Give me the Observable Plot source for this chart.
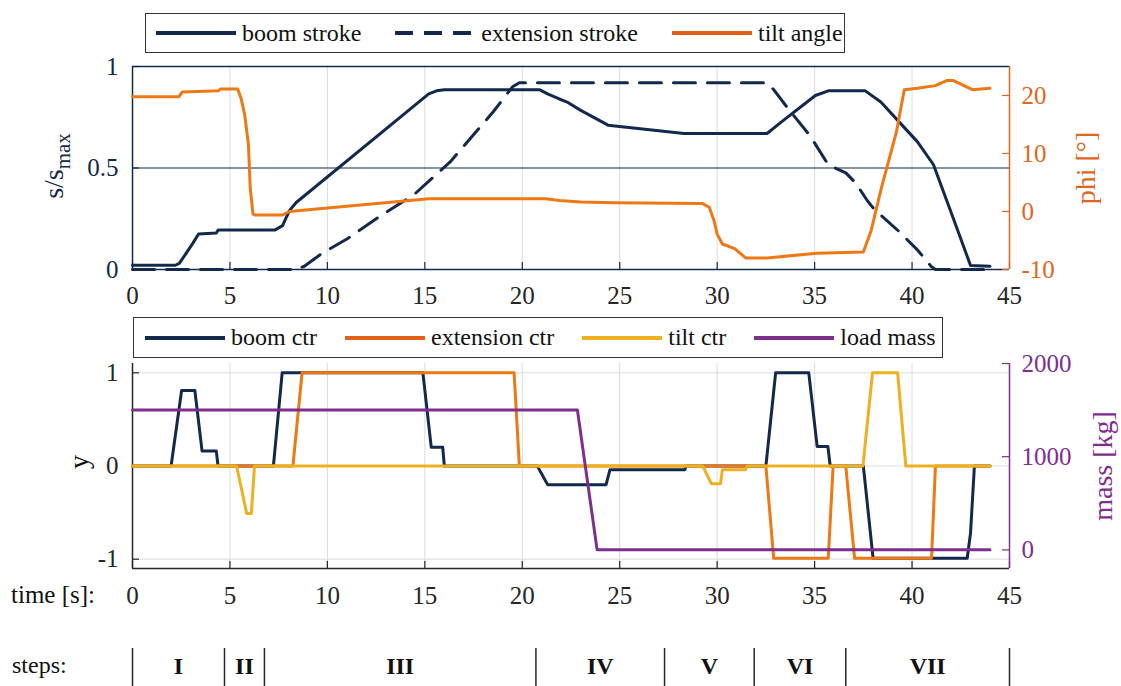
<!DOCTYPE html>
<html>
<head>
<meta charset="utf-8">
<script src="https://cdn.jsdelivr.net/npm/d3@7"></script>
<script src="https://cdn.jsdelivr.net/npm/@observablehq/plot@0.6"></script>
<style>
  html, body { margin: 0; padding: 0; background: #fff; overflow: hidden; }
  #root { position: relative; width: 1121px; height: 686px; overflow: hidden;
          font-family: "Liberation Serif", "Times New Roman", serif; }
  .layer { position: absolute; left: 0; }
  .layer svg { display: block; }
  .legend { position: absolute; box-sizing: border-box; border: 1.5px solid #333; background: #fff;
            display: flex; align-items: center; font-size: 24px; color: #111; white-space: nowrap; }
  .legend .item { display: flex; align-items: center; }
  .legend svg { display: block; margin-right: 6px; }
  .lbl { position: absolute; white-space: nowrap; line-height: 1; }
  .rot { transform: translate(-50%, -50%) rotate(-90deg); }
</style>
</head>
<body>
<div id="root"></div>
<script>
// ---------------- data ----------------
const xTicks = [0, 5, 10, 15, 20, 25, 30, 35, 40, 45];
const xGrid = [5, 10, 15, 20, 25, 30, 35, 40];
const sTicks = [0, 0.5, 1];
const phiTicks = [-10, 0, 10, 20];
const yTicks = [-1, 0, 1];
const massTicks = [0, 1000, 2000];

// top subplot: [time s, s/smax]
const boomStroke = [[0,0.021],[2.2,0.021],[2.4,0.03],[2.74,0.078],[3.1,0.13],[3.39,0.175],[4.3,0.18],[4.4,0.195],[7.32,0.195],[7.7,0.216],[8.05,0.29],[8.4,0.33],[15.2,0.865],[15.6,0.88],[16,0.885],[20.9,0.885],[21.3,0.865],[21.9,0.84],[22.3,0.825],[23.0,0.784],[24.4,0.711],[28.3,0.67],[32.56,0.67],[33.3,0.727],[35.04,0.857],[35.7,0.88],[37.6,0.88],[38.4,0.825],[39.5,0.71],[40.27,0.63],[41.1,0.516],[42.1,0.256],[43.0,0.02],[44,0.016]];
const extensionStroke = [[0,0],[8.4,0],[8.8,0.015],[9.7,0.078],[11.0,0.15],[12.6,0.256],[14.46,0.37],[16.3,0.53],[18.5,0.776],[19.5,0.9],[19.85,0.92],[32.56,0.92],[32.9,0.886],[33.66,0.79],[34.76,0.66],[35.7,0.516],[36.6,0.476],[37.1,0.427],[37.7,0.34],[38.06,0.297],[39.3,0.19],[40.3,0.094],[41.0,0.013],[41.2,0],[44,0]];
// [time s, phi deg]
const tiltAngle = [[0,19.8],[2.38,19.8],[2.56,20.6],[4.4,20.8],[4.5,21.1],[5.4,21.1],[5.58,19.4],[5.76,16.6],[5.95,11.5],[6.04,4.1],[6.18,-0.45],[6.3,-0.6],[7.7,-0.6],[8.05,0.0],[15.2,2.2],[21.2,2.2],[21.9,1.9],[23.0,1.65],[24.7,1.5],[29.26,1.36],[29.6,0.7],[29.84,-1.6],[30.0,-3.9],[30.27,-5.6],[30.9,-6.4],[31.46,-8.0],[32.56,-8.0],[35.13,-7.2],[37.5,-7.0],[37.9,-3.3],[38.43,4.1],[39.2,13.75],[39.6,21.0],[40.27,21.25],[41.2,21.7],[41.8,22.6],[42.1,22.6],[43.1,21.0],[44.0,21.25]];

// bottom subplot: [time s, y]
const boomCtr = [[0,0],[1.98,0],[2.52,0.81],[3.2,0.81],[3.57,0.16],[4.3,0.16],[4.39,0],[7.23,0],[7.68,1],[14.9,1],[15.33,0.2],[15.92,0.2],[16.0,0],[20.77,0],[21.3,-0.2],[24.3,-0.2],[24.5,-0.04],[28.34,-0.04],[28.4,0],[32.5,0],[33.0,1],[34.7,1],[35.13,0.21],[35.68,0.21],[35.8,0],[37.5,0],[38.0,-0.99],[42.83,-0.99],[43.0,-0.72],[43.2,0],[44,0]];
const extensionCtr = [[0,0],[8.23,0],[8.7,1],[19.58,1],[19.85,0],[32.5,0],[32.9,-0.99],[35.7,-0.99],[35.95,0],[36.6,0],[37.05,-0.99],[41.0,-0.99],[41.2,0],[44,0]];
const tiltCtr = [[0,0],[5.34,0],[5.86,-0.51],[6.1,-0.51],[6.26,0],[29.26,0],[29.7,-0.19],[30.17,-0.19],[30.27,-0.04],[31.46,-0.04],[31.55,0],[37.48,0],[37.97,1],[39.26,1],[39.68,0],[44,0]];
// [time s, mass kg]
const loadMass = [[0,1500],[22.83,1500],[23.84,0],[44,0]];

// steps row
const stepBounds = [0, 4.72, 6.77, 20.7, 27.3, 31.9, 36.6, 45];
const stepNames = ["I", "II", "III", "IV", "V", "VI", "VII"];

const topLegend = ["boom stroke", "extension stroke", "tilt angle"];
const bottomLegend = ["boom ctr", "extension ctr", "tilt ctr", "load mass"];

// ---------------- style ----------------
const FONT = '"Liberation Serif", "Times New Roman", serif';
const navy = "#13294b", orangeLine = "#ee7814", orangeAxis = "#e0661c", orangeLeg = "#e2601a";
const yellow = "#edb120", purple = "#7e2f8e", gridC = "#dcdcdc", ink = "#262626";
const W = 1121, ML = 132, MR = 112, PW = W - ML - MR;
const TS = 25;
const root = document.getElementById("root");
const X = d => d[0], Y = d => d[1];
const fmt = d => String(d);

function place(el, top) {
  const div = document.createElement("div");
  div.className = "layer"; div.style.top = top + "px";
  div.appendChild(el); root.appendChild(div);
}
const baseStyle = {background: "transparent", fontFamily: FONT, overflow: "visible"};

// ---------------- top subplot ----------------
const T = {top: 0, h: 320, mt: 66, mb: 51};
const TPH = T.h - T.mt - T.mb;
place(Plot.plot({
  width: W, height: T.h, marginTop: T.mt, marginBottom: T.mb, marginLeft: ML, marginRight: MR,
  style: baseStyle,
  x: {domain: [0, 45]}, y: {domain: [0, 1]},
  marks: [
    Plot.ruleX(xGrid, {stroke: gridC, strokeWidth: 1}),
    Plot.ruleY([0.5], {stroke: navy, strokeWidth: 1.2}),
    Plot.ruleY([0, 1], {stroke: navy, strokeWidth: 1.5}),
    Plot.ruleX([0], {stroke: navy, strokeWidth: 1.5}),
    Plot.ruleX(xTicks, {stroke: navy, strokeWidth: 1.2, insetTop: TPH - 7}),
    Plot.ruleY(sTicks, {stroke: navy, strokeWidth: 1.2, insetRight: PW - 7}),
    Plot.axisX(xTicks, {tickSize: 0, tickPadding: 17, fontSize: TS, color: ink, label: null, tickFormat: fmt}),
    Plot.axisY(sTicks, {tickSize: 0, tickPadding: 14, fontSize: TS, color: navy, label: null, tickFormat: fmt}),
    Plot.line(boomStroke, {x: X, y: Y, stroke: navy, strokeWidth: 3}),
    Plot.line(extensionStroke, {x: X, y: Y, stroke: navy, strokeWidth: 3, strokeDasharray: "22,12"})
  ]
}), T.top);
place(Plot.plot({
  width: W, height: T.h, marginTop: T.mt, marginBottom: T.mb, marginLeft: ML, marginRight: MR,
  style: baseStyle,
  x: {domain: [0, 45], axis: null}, y: {domain: [-10, 25]},
  marks: [
    Plot.ruleX([45], {stroke: orangeAxis, strokeWidth: 1.5}),
    Plot.ruleY(phiTicks, {stroke: orangeAxis, strokeWidth: 1.2, insetLeft: PW - 7}),
    Plot.axisY(phiTicks, {anchor: "right", tickSize: 0, tickPadding: 12, fontSize: TS, color: orangeAxis, label: null, tickFormat: fmt}),
    Plot.line(tiltAngle, {x: X, y: Y, stroke: orangeLine, strokeWidth: 3})
  ]
}), T.top);

// ---------------- bottom subplot ----------------
const B = {top: 310, h: 300, mt: 53, mb: 42};
const BPH = B.h - B.mt - B.mb;
place(Plot.plot({
  width: W, height: B.h, marginTop: B.mt, marginBottom: B.mb, marginLeft: ML, marginRight: MR,
  style: baseStyle,
  x: {domain: [0, 45]}, y: {domain: [-1.1, 1.1]},
  marks: [
    Plot.ruleX(xGrid, {stroke: gridC, strokeWidth: 1}),
    Plot.ruleY(yTicks, {stroke: gridC, strokeWidth: 1}),
    Plot.ruleY([-1.1], {stroke: ink, strokeWidth: 1.5}),
    Plot.ruleX([0], {stroke: ink, strokeWidth: 1.5}),
    Plot.ruleX(xTicks, {stroke: ink, strokeWidth: 1.2, insetTop: BPH - 7}),
    Plot.ruleY(yTicks, {stroke: ink, strokeWidth: 1.2, insetRight: PW - 7}),
    Plot.axisX(xTicks, {tickSize: 0, tickPadding: 18, fontSize: TS, color: ink, label: null, tickFormat: fmt}),
    Plot.axisY(yTicks, {tickSize: 0, tickPadding: 14, fontSize: TS, color: ink, label: null, tickFormat: fmt}),
    Plot.line(boomCtr, {x: X, y: Y, stroke: navy, strokeWidth: 3}),
    Plot.line(extensionCtr, {x: X, y: Y, stroke: orangeLine, strokeWidth: 3}),
    Plot.line(tiltCtr, {x: X, y: Y, stroke: yellow, strokeWidth: 3})
  ]
}), B.top);
place(Plot.plot({
  width: W, height: B.h, marginTop: B.mt, marginBottom: B.mb, marginLeft: ML, marginRight: MR,
  style: baseStyle,
  x: {domain: [0, 45], axis: null}, y: {domain: [-200, 2000]},
  marks: [
    Plot.ruleX([45], {stroke: purple, strokeWidth: 1.5}),
    Plot.ruleY(massTicks, {stroke: purple, strokeWidth: 1.2, insetLeft: PW - 7}),
    Plot.axisY(massTicks, {anchor: "right", tickSize: 0, tickPadding: 12, fontSize: TS, color: purple, label: null, tickFormat: fmt}),
    Plot.line(loadMass, {x: X, y: Y, stroke: purple, strokeWidth: 3})
  ]
}), B.top);

// ---------------- steps row ----------------
const stepMid = d3.pairs(stepBounds).map(([a, b]) => (a + b) / 2);
const stepData = stepNames.map((n, i) => ({name: n, x: stepMid[i]}));
place(Plot.plot({
  width: W, height: 76, marginTop: 0, marginBottom: 0, marginLeft: ML, marginRight: MR,
  style: baseStyle,
  x: {domain: [0, 45], axis: null},
  marks: [
    Plot.ruleX(stepBounds, {stroke: ink, strokeWidth: 1.5, insetTop: 38}),
    Plot.text(stepData, {x: "x", text: "name", frameAnchor: "middle", dy: 18, fontSize: 24, fontWeight: "bold", fill: "#111"})
  ]
}), 610);

// ---------------- text labels ----------------
function label(html, css, cls) {
  const d = document.createElement("div");
  d.className = "lbl " + (cls || "");
  d.innerHTML = html;
  Object.assign(d.style, css);
  root.appendChild(d);
}
label('s/s<sub style="font-size:21px;vertical-align:-7px">max</sub>', {left: "57px", top: "166px", fontSize: "28px", color: navy}, "rot");
label('phi [°]', {left: "1086px", top: "168px", fontSize: "28px", color: orangeAxis}, "rot");
label('y', {left: "79px", top: "462px", fontSize: "28px", color: "#111"}, "rot");
label('mass [kg]', {left: "1103px", top: "466px", fontSize: "28px", color: purple}, "rot");
label('time [s]:', {left: "11px", top: "582px", fontSize: "25px", color: "#111"});
label('steps:', {left: "12px", top: "653px", fontSize: "24px", color: "#111"});

// ---------------- legends ----------------
function legend(box, names, styles, gap) {
  const d = document.createElement("div");
  d.className = "legend";
  Object.assign(d.style, {left: box.left + "px", top: box.top + "px", width: box.width + "px", height: box.height + "px", paddingLeft: box.pad + "px"});
  names.forEach((n, i) => {
    const it = document.createElement("div");
    it.className = "item";
    if (i > 0) it.style.marginLeft = gap + "px";
    const s = styles[i];
    it.innerHTML = `<svg width="80" height="10"><line x1="0" y1="5" x2="80" y2="5" stroke="${s.c}" stroke-width="4" ${s.dash ? `stroke-dasharray="${s.dash}"` : ""}/></svg><span>${n}</span>`;
    d.appendChild(it);
  });
  root.appendChild(d);
}
legend({left: 145, top: 13, width: 700, height: 40, pad: 10}, topLegend,
  [{c: navy}, {c: navy, dash: "18,11"}, {c: orangeLeg}], 34);
legend({left: 133, top: 317, width: 810, height: 41, pad: 11}, bottomLegend,
  [{c: navy}, {c: orangeLeg}, {c: yellow}, {c: purple}], 28);
</script>
</body>
</html>
